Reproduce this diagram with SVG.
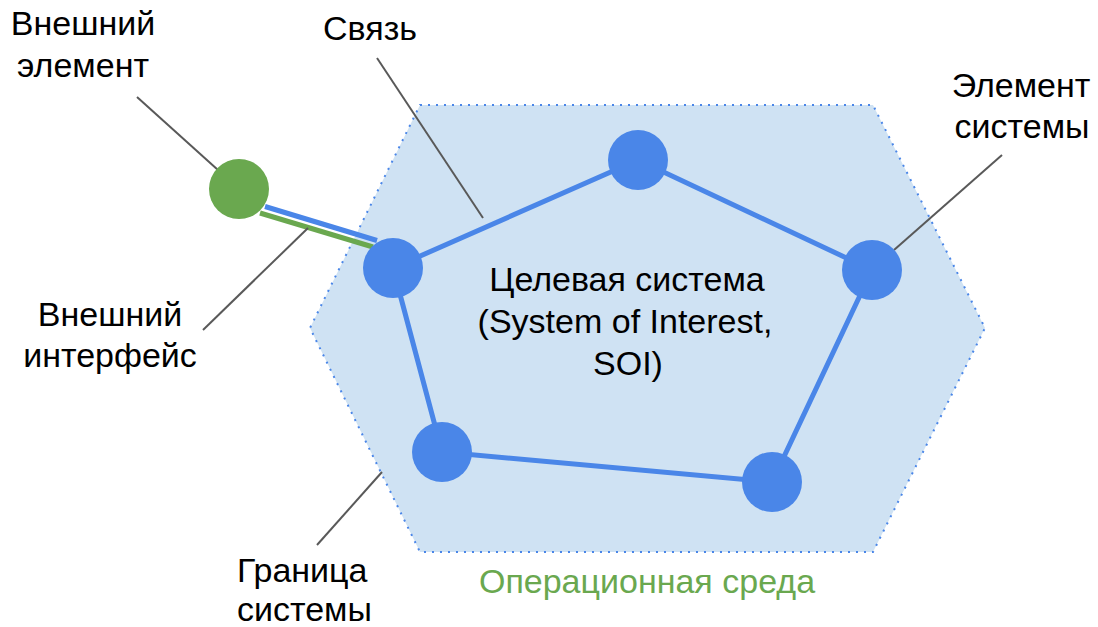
<svg xmlns="http://www.w3.org/2000/svg" width="1098" height="627" viewBox="0 0 1098 627">
  <style>
    .lbl { font-family: "Liberation Sans", Arial, sans-serif; font-size: 34px; fill: #000; }
    .mid { text-anchor: middle; }
    .env { fill: #6aa84f; }
    .leader { stroke: #595959; stroke-width: 2; fill: none; }
    .link { stroke: #4a86e8; stroke-width: 5; fill: none; }
    .node { fill: #4a86e8; }
  </style>
  <rect width="1098" height="627" fill="#fff"/>

  <!-- operating environment boundary -->
  <g id="environment">
    <polygon points="420,105 873,105 985,328 873,552 420,552 310,328" fill="#cfe2f3" stroke="#4a86e8" stroke-width="2" stroke-dasharray="2 6"/>
  </g>

  <!-- connectors -->
  <g id="connectors">
    <line class="link" x1="265" y1="206.5" x2="377" y2="240.5"/>
    <line x1="260" y1="213" x2="373" y2="247" stroke="#6aa84f" stroke-width="5"/>
    <polyline class="link" points="393,268 638,160 872,270 772,482 442,452 393,268"/>
    <line class="leader" x1="137" y1="97" x2="218" y2="170"/>
    <line class="leader" x1="377" y1="58" x2="483" y2="218"/>
    <line class="leader" x1="1002" y1="155" x2="894" y2="250"/>
    <line class="leader" x1="203" y1="330" x2="308" y2="228"/>
    <line class="leader" x1="317" y1="545" x2="382" y2="472"/>
  </g>

  <!-- nodes -->
  <g id="external-element"><circle cx="239" cy="189" r="30" fill="#6aa84f"/></g>
  <g id="element-left"><circle class="node" cx="393" cy="268" r="30"/></g>
  <g id="element-top"><circle class="node" cx="638" cy="160" r="30"/></g>
  <g id="element-right"><circle class="node" cx="872" cy="270" r="30"/></g>
  <g id="element-bottom-right"><circle class="node" cx="772" cy="482" r="30"/></g>
  <g id="element-bottom-left"><circle class="node" cx="442" cy="452" r="30"/></g>

  <!-- labels -->
  <g id="labels">
    <text class="lbl mid" x="83" y="35">Внешний</text>
    <text class="lbl mid" x="83" y="77">элемент</text>
    <text class="lbl mid" x="370" y="40">Связь</text>
    <text class="lbl mid" x="1021" y="97">Элемент</text>
    <text class="lbl mid" x="1022" y="138">системы</text>
    <text class="lbl mid" x="110" y="326">Внешний</text>
    <text class="lbl mid" x="110" y="367">интерфейс</text>
    <text class="lbl mid" x="627" y="291">Целевая система</text>
    <text class="lbl mid" x="625" y="333">(System of Interest,</text>
    <text class="lbl mid" x="628" y="375">SOI)</text>
    <text class="lbl" x="237" y="582">Граница</text>
    <text class="lbl" x="237" y="621">системы</text>
    <text class="lbl mid env" x="647" y="593">Операционная среда</text>
  </g>
</svg>
